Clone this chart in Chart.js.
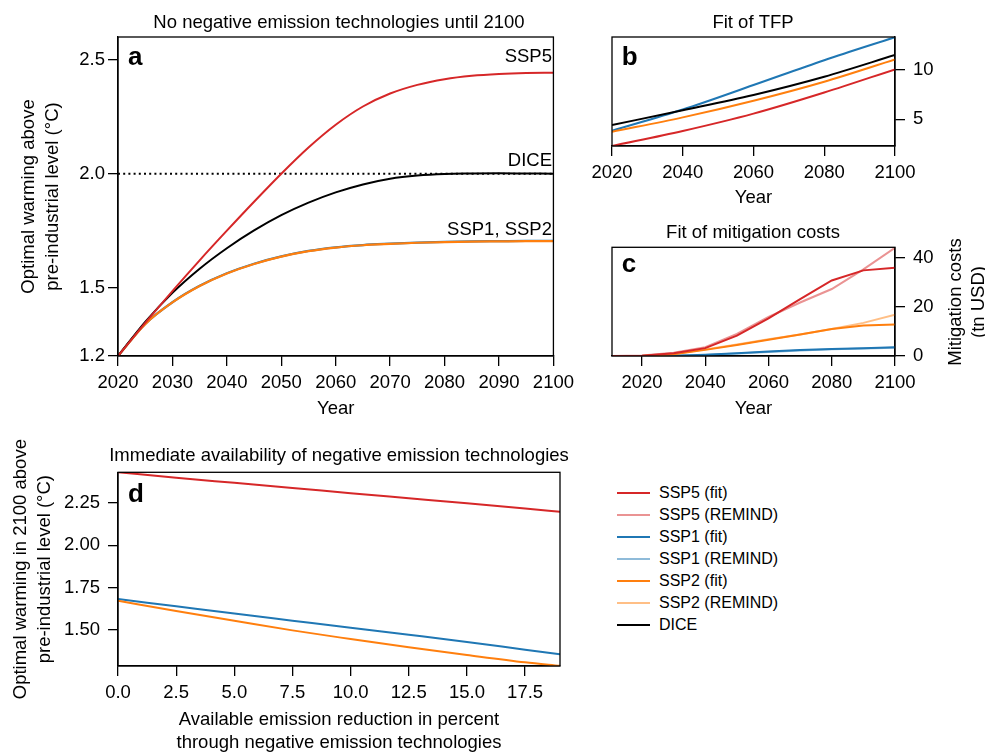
<!DOCTYPE html>
<html><head><meta charset="utf-8">
<script src="https://cdn.jsdelivr.net/npm/chart.js@4/dist/chart.umd.min.js"></script>
<style>
html,body{margin:0;padding:0;background:#fff;overflow:hidden;width:985px;height:752px;position:relative;}
canvas{position:absolute;}
#legend{position:absolute;left:617px;top:481.7px;font:16px "Liberation Sans",Arial,Helvetica,sans-serif;color:#000;}
.row{height:22px;display:flex;align-items:center;white-space:nowrap;}
.sw{width:33px;height:2px;margin-right:9px;}
</style></head><body>
<canvas id="ca" width="580" height="420" style="left:0;top:0"></canvas>
<canvas id="cb" width="405" height="220" style="left:580px;top:0"></canvas>
<canvas id="cc" width="405" height="200" style="left:580px;top:220px"></canvas>
<canvas id="cd" width="580" height="324" style="left:0;top:430px"></canvas>
<div id="legend"></div>
<script>
// ---------- DATA ----------
// Panel a: optimal warming (°C) without negative emission technologies
const yearsA = [2020,2025,2030,2035,2040,2045,2050,2055,2060,2065,2070,2075,2080,2085,2090,2095,2100];
const warmSSP5 = [1.2,1.345,1.485,1.62,1.75,1.877,2.0,2.115,2.215,2.295,2.352,2.39,2.415,2.43,2.438,2.442,2.443];
const warmDICE = [1.2,1.35,1.477,1.583,1.673,1.751,1.818,1.873,1.918,1.953,1.978,1.992,1.999,2.001,2.002,2.001,2.0];
const warmSSP1 = [1.2,1.341,1.436,1.508,1.563,1.605,1.637,1.661,1.677,1.687,1.693,1.698,1.701,1.703,1.704,1.705,1.705];
const warmSSP2 = [1.2,1.34,1.435,1.507,1.562,1.604,1.636,1.66,1.676,1.686,1.692,1.697,1.7,1.702,1.703,1.704,1.704];
const targetWarming = 2.0;
const ticksAx = [2020,2030,2040,2050,2060,2070,2080,2090,2100];
const ticksAy = [1.2,1.5,2.0,2.5];

// Panel b: fit of TFP
const yearsB = [2020,2040,2060,2080,2100];
const tfpSSP5 = [2.30,3.82,5.58,7.72,10.07];
const tfpSSP1 = [3.85,6.0,8.48,11.0,13.33];
const tfpSSP2 = [3.74,5.2,6.89,8.82,11.08];
const tfpDICE = [4.43,5.92,7.47,9.32,11.52];
const ticksBx = [2020,2040,2060,2080,2100];
const ticksBy = [5,10];

// Panel c: mitigation costs (tn USD)
const yearsC = [2010,2020,2030,2040,2050,2060,2070,2080,2090,2100];
const costSSP5Fit    = [0,0.1,1.1,3.2,8.3,15.3,23.2,30.8,34.9,36.0];
const costSSP5Remind = [0,0.2,1.3,3.6,9.0,15.9,21.8,27.3,35.3,44.1];
const costSSP1Fit    = [0,0,0.1,0.5,1.1,1.8,2.4,2.9,3.2,3.6];
const costSSP1Remind = [0,0,0.1,0.4,1.0,1.6,2.2,2.7,3.1,3.4];
const costSSP2Fit    = [0,0,0.7,2.5,4.5,6.6,8.8,11.0,12.4,12.8];
const costSSP2Remind = [0,0,0.8,2.7,4.7,6.8,8.8,11.0,13.5,16.8];
const ticksCx = [2020,2040,2060,2080,2100];
const ticksCy = [0,20,40];

// Panel d: optimal warming in 2100 vs negative emission share
const netPercent = [0,2.5,5,7.5,10,12.5,15,17.5,19];
const dSSP5 = [2.43,2.398,2.368,2.338,2.307,2.277,2.247,2.216,2.197];
const dSSP1 = [1.683,1.64,1.597,1.555,1.513,1.472,1.43,1.384,1.357];
const dSSP2 = [1.673,1.612,1.555,1.498,1.447,1.398,1.353,1.31,1.289];
const ticksDx = [0,2.5,5,7.5,10,12.5,15,17.5];
const ticksDy = [1.5,1.75,2.0,2.25];

// Legend
const legendLabels = ['SSP5 (fit)','SSP5 (REMIND)','SSP1 (fit)','SSP1 (REMIND)','SSP2 (fit)','SSP2 (REMIND)','DICE'];
const RED='#d62728', RED_L='rgba(214,39,40,0.5)', BLUE='#1f77b4', BLUE_L='rgba(31,119,180,0.5)', ORANGE='#ff7f0e', ORANGE_L='rgba(255,127,14,0.5)', BLACK='#000000';
const legendColors = [RED,RED_L,BLUE,BLUE_L,ORANGE,ORANGE_L,BLACK];

// ---------- HELPERS ----------
const FONT = '"Liberation Sans", Arial, Helvetica, sans-serif';
const FS = 18.5;
Chart.defaults.font.family = FONT;
Chart.defaults.font.size = FS;
Chart.defaults.color = '#000';

const pts = (xs, ys) => xs.map((x,i)=>({x, y: ys[i]}));

function axis(pos, min, max, ticks, fmt, size, pad, title) {
  return {
    type:'linear', position:pos, min, max,
    afterBuildTicks: s => { s.ticks = ticks.map(v=>({value:v})); },
    afterFit: s => { if (pos==='bottom') s.height = size; else s.width = size; },
    ticks: {padding: pad, color:'#000', font:{size:FS}, callback: fmt, maxRotation:0, autoSkip:false},
    grid: {display:true, drawOnChartArea:false, drawTicks:true, tickLength:10, color:'#000', lineWidth:1.3},
    border: {display:true, color:'#000', width:1.3},
    title: title || {display:false}
  };
}
const framePlugin = { id:'frame', afterDatasetsDraw(chart) {
  const {ctx, chartArea:a} = chart; ctx.save(); ctx.strokeStyle='#000'; ctx.lineWidth=1.3;
  ctx.strokeRect(a.left, a.top, a.right-a.left, a.bottom-a.top); ctx.restore(); } };
const textPlugin = { id:'texts', afterDraw(chart, args, opts) {
  const ctx = chart.ctx; const items = opts.items || [];
  for (let i=0;i<items.length;i++) { const t = items[i];
    ctx.save(); ctx.font = t.font || (FS+'px '+FONT); ctx.fillStyle='#000';
    ctx.textAlign = t.align || 'left'; ctx.textBaseline='alphabetic';
    ctx.translate(t.x, t.y); if (t.rot) ctx.rotate(t.rot);
    ctx.fillText(t.text, 0, 0); ctx.restore(); } } };

function line(data, color, width, extra) {
  return Object.assign({data, borderColor: color, backgroundColor: color, borderWidth: width||2, pointRadius:0, fill:false}, extra||{});
}
const base = (padding, texts) => ({
  responsive:false, animation:false, devicePixelRatio:1,
  layout:{padding},
  plugins:{legend:{display:false}, tooltip:{enabled:false}, texts:{items:texts}},
  elements:{line:{cubicInterpolationMode:'monotone'}}
});
const BOLD = 'bold 26px '+FONT;
const FT = FS+'px '+FONT;
const yearTitle = {display:true, text:'Year', font:{size:FS, lineHeight:1.2}, padding:{top:0,bottom:0}, color:'#000'};

// ---------- PANEL A ----------
{
  const o = base({left:0, top:37, right:20, bottom:0}, [
    {text:'No negative emission technologies until 2100', x:339, y:27.5, align:'center', font:FT},
    {text:'a', x:128, y:65, font:BOLD},
    {text:'SSP5', x:552, y:61.7, align:'right', font:FT},
    {text:'DICE', x:552, y:166, align:'right', font:FT},
    {text:'SSP1, SSP2', x:552, y:234.5, align:'right', font:FT}
  ]);
  o.scales = {
    x: axis('bottom', 2020, 2100, ticksAx, v=>String(v), 64, 6, yearTitle),
    y: axis('left', 1.2, 2.6, ticksAy, v=>v.toFixed(1), 118, 3,
      {display:true, text:['Optimal warming above','pre-industrial level (°C)'], font:{size:FS, lineHeight:1.3}, padding:{top:17,bottom:0}, color:'#000'})
  };
  new Chart(document.getElementById('ca'), {
    type:'line',
    data:{datasets:[
      line(pts(yearsA, warmSSP5), RED, 2),
      line(pts(yearsA, warmDICE), BLACK, 2),
      line(pts(yearsA, warmSSP2), ORANGE, 2.2),
      line(pts(yearsA, warmSSP1), BLUE, 2.2),
      line(pts([yearsA[0], yearsA[yearsA.length-1]], [targetWarming, targetWarming]), BLACK, 2, {borderDash:[2,3.2]})
    ]},
    options:o, plugins:[framePlugin, textPlugin]
  });
}
// ---------- PANEL B ----------
{
  const o = base({left:32, top:37, right:0, bottom:11}, [
    {text:'Fit of TFP', x:173, y:27.7, align:'center', font:FT},
    {text:'b', x:41.7, y:65, font:BOLD}
  ]);
  o.scales = {
    x: axis('bottom', 2020, 2100, ticksBx, v=>String(v), 63, 6, yearTitle),
    y: axis('right', 2.3, 13.35, ticksBy, v=>String(v), 90, 8)
  };
  new Chart(document.getElementById('cb'), {
    type:'line',
    data:{datasets:[
      line(pts(yearsB, tfpDICE), BLACK, 2),
      line(pts(yearsB, tfpSSP5), RED, 2),
      line(pts(yearsB, tfpSSP2), ORANGE, 2),
      line(pts(yearsB, tfpSSP1), BLUE, 2)
    ]},
    options:o, plugins:[framePlugin, textPlugin]
  });
}
// ---------- PANEL C ----------
{
  const o = base({left:32, top:27.3, right:0, bottom:0}, [
    {text:'Fit of mitigation costs', x:173, y:18.3, align:'center', font:FT},
    {text:'c', x:41.7, y:51.7, font:BOLD},
    {text:'Mitigation costs', x:381, y:82, align:'center', font:FT, rot:-Math.PI/2},
    {text:'(tn USD)', x:404, y:82, align:'center', font:FT, rot:-Math.PI/2}
  ]);
  o.elements = {line:{tension:0}};
  o.scales = {
    x: axis('bottom', 2010.5, 2100, ticksCx, v=>String(v), 64, 6, yearTitle),
    y: axis('right', 0, 44.3, ticksCy, v=>String(v), 90, 8)
  };
  new Chart(document.getElementById('cc'), {
    type:'line',
    data:{datasets:[
      line(pts(yearsC, costSSP5Fit), RED, 2),
      line(pts(yearsC, costSSP2Fit), ORANGE, 2),
      line(pts(yearsC, costSSP1Fit), BLUE, 2),
      line(pts(yearsC, costSSP5Remind), RED_L, 2),
      line(pts(yearsC, costSSP2Remind), ORANGE_L, 2),
      line(pts(yearsC, costSSP1Remind), BLUE_L, 2)
    ]},
    options:o, plugins:[framePlugin, textPlugin]
  });
}
// ---------- PANEL D ----------
{
  const o = base({left:0, top:42.3, right:20, bottom:0}, [
    {text:'Immediate availability of negative emission technologies', x:339, y:31.3, align:'center', font:FT},
    {text:'d', x:128, y:71.7, font:BOLD}
  ]);
  o.scales = {
    x: axis('bottom', 0, 19, ticksDx, v=>v.toFixed(1), 88, 6,
      {display:true, text:['Available emission reduction in percent','through negative emission technologies'], font:{size:FS, lineHeight:1.22}, padding:{top:0,bottom:0}, color:'#000'}),
    y: axis('left', 1.288, 2.43, ticksDy, v=>v.toFixed(2), 118, 8,
      {display:true, text:['Optimal warming in 2100 above','pre-industrial level (°C)'], font:{size:FS, lineHeight:1.3}, padding:{top:9,bottom:0}, color:'#000'})
  };
  new Chart(document.getElementById('cd'), {
    type:'line',
    data:{datasets:[
      line(pts(netPercent, dSSP5), RED, 2),
      line(pts(netPercent, dSSP2), ORANGE, 2),
      line(pts(netPercent, dSSP1), BLUE, 2)
    ]},
    options:o, plugins:[framePlugin, textPlugin]
  });
}
// ---------- LEGEND ----------
{
  const lg = document.getElementById('legend');
  legendLabels.forEach((lab,i)=>{
    const r = document.createElement('div'); r.className='row';
    const s = document.createElement('div'); s.className='sw'; s.style.background = legendColors[i];
    const t = document.createElement('span'); t.textContent = lab;
    r.appendChild(s); r.appendChild(t); lg.appendChild(r);
  });
}
</script>
</body></html>
